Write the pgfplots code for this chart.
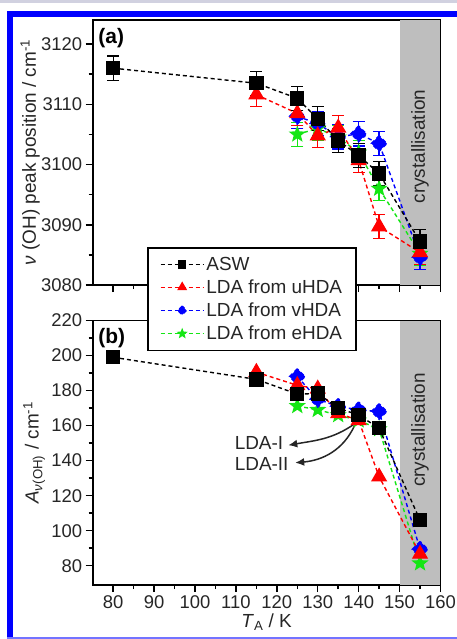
\documentclass[border=0pt]{standalone}
\usepackage{fontspec}
\setmainfont{Liberation Sans}
\usepackage{pgfplots}
\pgfplotsset{compat=1.18}
\usetikzlibrary{arrows.meta}

\definecolor{cred}{RGB}{255,0,0}
\definecolor{cblue}{RGB}{0,0,255}
\definecolor{cgreen}{RGB}{20,230,20}
\definecolor{frameblue}{RGB}{0,0,255}
\definecolor{crysgray}{RGB}{190,190,190}

% filled five-pointed star
\pgfdeclareplotmark{fstar}{%
  \pgfpathmoveto{\pgfpointpolar{90}{\pgfplotmarksize}}%
  \pgfpathlineto{\pgfpointpolar{126}{0.42\pgfplotmarksize}}%
  \pgfpathlineto{\pgfpointpolar{162}{\pgfplotmarksize}}%
  \pgfpathlineto{\pgfpointpolar{198}{0.42\pgfplotmarksize}}%
  \pgfpathlineto{\pgfpointpolar{234}{\pgfplotmarksize}}%
  \pgfpathlineto{\pgfpointpolar{270}{0.42\pgfplotmarksize}}%
  \pgfpathlineto{\pgfpointpolar{306}{\pgfplotmarksize}}%
  \pgfpathlineto{\pgfpointpolar{342}{0.42\pgfplotmarksize}}%
  \pgfpathlineto{\pgfpointpolar{18}{\pgfplotmarksize}}%
  \pgfpathlineto{\pgfpointpolar{54}{0.42\pgfplotmarksize}}%
  \pgfpathclose\pgfusepathqfillstroke}

\pgfplotsset{
  panel/.style={
    scale only axis, width=347.8bp,
    xmin=75, xmax=160, xtick={80,90,...,160}, minor x tick num=1,
    tick pos=left, tick align=outside,
    major tick length=7bp, minor tick length=4bp,
    axis line style={line width=1.8bp},
    tick style={line width=1.5bp, black},
    tick label style={font=\fontsize{18.5}{21}\selectfont, color=black!85},
    /pgf/number format/assume math mode=true,
    /pgf/number format/1000 sep={},
    label style={font=\fontsize{19}{22}\selectfont, color=black!85},
    clip=false,
  },
  ser/.style={line width=1.4bp, dash pattern=on 4bp off 3bp, every mark/.append style={solid}},
  asw/.style={ser, black, mark=square*, mark size=6.5bp},
  uhda/.style={ser, cred, mark=triangle*, mark size=8bp},
  vhda/.style={ser, cblue, mark=square*, mark size=5.5bp, mark options={rotate=45}},
  ehda/.style={ser, cgreen, mark=fstar, mark size=7bp},
  ebar/.style={error bars/.cd, y dir=both, y explicit,
    error bar style={solid, line width=1.3bp},
    error mark options={rotate=90, mark size=6bp, line width=1.3bp, solid}},
}

\begin{document}
\begin{tikzpicture}
% page frame
\useasboundingbox (0bp,0bp) rectangle (457bp,-639bp);
\fill[white] (0bp,0bp) rectangle (457bp,-639bp);
\fill[blue!20!gray!30] (0bp,0bp) rectangle (457bp,-3bp);
\fill[frameblue] (7bp,-11bp) rectangle (457bp,-16.5bp);
\fill[frameblue] (7bp,-11bp) rectangle (12.5bp,-639bp);
\fill[frameblue!55] (7bp,-636.8bp) rectangle (457bp,-639bp);

% ---------------- panel (a)
\begin{axis}[panel, at={(92.7bp,-285bp)}, anchor=south west, height=265bp,
  ymin=3080, ymax=3124, ytick={3080,3090,...,3120}, minor y tick num=1,
  xticklabels={},
  ylabel={\textit{ν} (OH) peak position / cm\textsuperscript{-1}},
  ylabel style={at={(axis description cs:-0.18,0.5)}, anchor=center},
]
\fill[crysgray] (axis cs:150,3080) rectangle (axis cs:160,3124);
\node[rotate=90, font=\fontsize{19}{22}\selectfont, color=black!85] at (axis cs:155,3103) {crystallisation};
\node[anchor=north west, font=\bfseries\fontsize{21}{24}\selectfont, inner sep=0pt] at (axis description cs:0.016,0.97) {(a)};

\addplot[ehda, ebar] coordinates {
  (125,3105.0) +- (0,2) (130,3106.0) +- (0,2) (135,3104.5) +- (0,2)
  (140,3102.0) +- (0,2) (145,3096.0) +- (0,2) (155,3085.2) +- (0,2)};
\addplot[vhda, ebar] coordinates {
  (125,3108.0) +- (0,2) (130,3106.8) +- (0,2) (135,3104.6) +- (0,2)
  (140,3105.1) +- (0,2) (145,3103.5) +- (0,2) (155,3084.6) +- (0,2)};
\addplot[uhda, ebar] coordinates {
  (115,3111.6) +- (0,2) (125,3108.5) +- (0,2) (130,3104.8) +- (0,2)
  (135,3106.1) +- (0,2) (140,3100.7) +- (0,2) (145,3089.7) +- (0,2)
  (155,3085.4) +- (0,2)};
\addplot[asw, ebar] coordinates {
  (80,3116.0) +- (0,2) (115,3113.5) +- (0,2) (125,3111.0) +- (0,2)
  (130,3107.6) +- (0,2) (135,3104.0) +- (0,2) (140,3101.5) +- (0,2)
  (145,3098.5) +- (0,2) (155,3087.2) +- (0,2)};
\end{axis}

% ---------------- panel (b)
\begin{axis}[panel, at={(92.7bp,-585bp)}, anchor=south west, height=264.5bp,
  ymin=69, ymax=220, ytick={80,100,...,220}, minor y tick num=1,
  xlabel={\textit{T}\textsubscript{A} / K},
  xlabel style={at={(axis description cs:0.5,-0.14)}, anchor=center},
  ylabel={\textit{A}\textsubscript{\textit{ν}(OH)} / cm\textsuperscript{-1}},
  ylabel style={at={(axis description cs:-0.168,0.5)}, anchor=center},
  reverse legend,
  legend style={at={(axis description cs:0.157,1.277)}, anchor=north west,
    draw=black, line width=1.4bp, fill=white,
    font=\fontsize{19}{22}\selectfont, text=black!85,
    inner xsep=12bp, inner ysep=5bp,
    nodes={inner xsep=2bp, inner ysep=4bp},
    cells={anchor=west}},
  legend image code/.code={\draw[mark repeat=2, mark phase=2, every mark/.append style={scale=0.55}]
    plot coordinates {(0bp,0bp)(21.5bp,0bp)(43bp,0bp)};},
]
\fill[crysgray] (axis cs:150,69) rectangle (axis cs:160,220);
\node[rotate=90, font=\fontsize{19}{22}\selectfont, color=black!85] at (axis cs:155,157.5) {crystallisation};
\node[anchor=north west, font=\bfseries\fontsize{21}{24}\selectfont, inner sep=0pt] at (axis description cs:0.016,0.972) {(b)};

\addplot[ehda] coordinates {(125,171.2) (130,169) (135,166) (140,163) (145,158) (155,81.4)};
\addlegendentry{LDA from eHDA}
\addplot[vhda] coordinates {(125,188) (130,175) (135,171) (140,169) (145,168) (155,89.4)};
\addlegendentry{LDA from vHDA}
\addplot[uhda] coordinates {(115,190.5) (125,183) (130,181) (135,167) (140,163) (145,130.8) (155,86.7)};
\addlegendentry{LDA from uHDA}
\addplot[asw] coordinates {(80,199) (115,186.4) (125,178) (130,178.3) (135,170) (140,166) (145,158.5) (155,106)};
\addlegendentry{ASW}

\draw[-{Latex[length=9bp,width=8bp]}, line width=1.5bp, black!85]
  (axis cs:139,161) to[out=215, in=10] (axis cs:122.8,148.8);
\draw[-{Latex[length=9bp,width=8bp]}, line width=1.5bp, black!85]
  (axis cs:139,160) to[out=245, in=5] (axis cs:124.5,138.8);
\node[anchor=east, font=\fontsize{19}{22}\selectfont, color=black!85, inner sep=0pt] at (axis cs:121.6,150.2) {LDA-I};
\node[anchor=east, font=\fontsize{19}{22}\selectfont, color=black!85, inner sep=0pt] at (axis cs:122.9,138) {LDA-II};
\end{axis}
\end{tikzpicture}
\end{document}
